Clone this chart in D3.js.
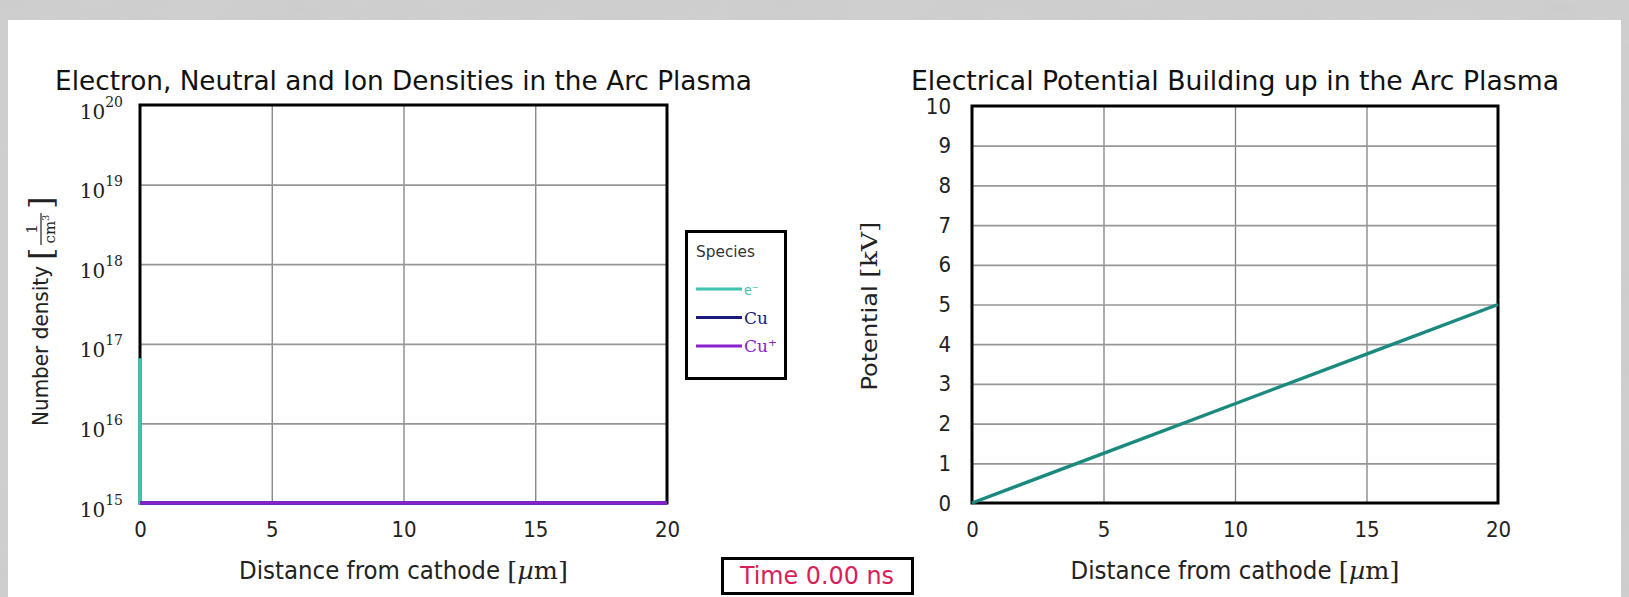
<!DOCTYPE html>
<html>
<head>
<meta charset="utf-8">
<script src="https://cdn.jsdelivr.net/npm/d3@7"></script>
<style>
  html, body { margin: 0; padding: 0; background: #c4c4c4; }
  svg { display: block; }
</style>
</head>
<body>
<svg id="fig" width="1629" height="597"></svg>
<script>
// ---- data -------------------------------------------------------------
const xTicks = [0, 5, 10, 15, 20];                       // distance from cathode, µm
const densityTicks = [1e15, 1e16, 1e17, 1e18, 1e19, 1e20]; // cm^-3
const potentialTicks = [0, 1, 2, 3, 4, 5, 6, 7, 8, 9, 10]; // kV

// species densities along the gap (1e15 is the plotting floor)
const electronX = [0, 0, 20];
const electronDensity = [6.6e16, 1e15, 1e15];
const neutralX = [0, 20];
const neutralDensity = [1e15, 1e15];
const ionX = [0, 20];
const ionDensity = [1e15, 1e15];

// electrical potential along the gap
const potentialX = [0, 5, 10, 15, 20];
const potentialKV = [0, 1.25, 2.5, 3.75, 5];

const speciesNames = ["e⁻", "Cu", "Cu⁺"];
const speciesColors = ["#3fc2ae", "#1b1b7d", "#8a20cc"];
const potentialColor = "#1a8a7e";
const timeLabel = "Time 0.00 ns";

// ---- layout -----------------------------------------------------------
const SANS = "'DejaVu Sans Condensed', 'Liberation Sans Narrow', 'DejaVu Sans', sans-serif";
const SERIF = "'DejaVu Serif', 'Liberation Serif', serif";
const svg = d3.select("#fig");

// textured grey surround and white page
const defs = svg.append("defs");
const flt = defs.append("filter").attr("id", "marble").attr("x", 0).attr("y", 0).attr("width", "100%").attr("height", "100%");
flt.append("feTurbulence").attr("type", "fractalNoise").attr("baseFrequency", "0.012 0.05").attr("numOctaves", 3).attr("seed", 4).attr("result", "n");
flt.append("feColorMatrix").attr("in", "n").attr("type", "matrix")
  .attr("values", "0 0 0 0 0.6  0 0 0 0 0.6  0 0 0 0 0.6  1.6 0 0 0 -0.55");
svg.append("rect").attr("width", 1629).attr("height", 597).attr("fill", "#cfcfcf");
svg.append("rect").attr("width", 1629).attr("height", 597).attr("filter", "url(#marble)").attr("opacity", 0.8);
svg.append("rect").attr("x", 8).attr("y", 20).attr("width", 1613).attr("height", 577).attr("fill", "#fff");

const left = { x0: 140, x1: 667, y0: 105, y1: 503 };
const right = { x0: 972, x1: 1498, y0: 106, y1: 503 };

const xL = d3.scaleLinear().domain([0, 20]).range([left.x0, left.x1]);
const yL = d3.scaleLog().domain([1e15, 1e20]).range([left.y1, left.y0]).clamp(true);
const xR = d3.scaleLinear().domain([0, 20]).range([right.x0, right.x1]);
const yR = d3.scaleLinear().domain([0, 10]).range([right.y1, right.y0]);

function fitText(sel, width) {
  sel.attr("textLength", width).attr("lengthAdjust", "spacingAndGlyphs");
}

function grid(g, x, y, yTicks, box) {
  g.append("g")
    .attr("transform", `translate(0,${box.y1})`)
    .call(d3.axisBottom(x).tickValues(xTicks.slice(1, -1)).tickSize(-(box.y1 - box.y0)).tickFormat(""))
    .call(a => a.select(".domain").remove())
    .call(a => a.selectAll("line").attr("stroke", "#808080").attr("stroke-width", 1.3));
  g.append("g")
    .attr("transform", `translate(${box.x0},0)`)
    .call(d3.axisLeft(y).tickValues(yTicks.slice(1, -1)).tickSize(-(box.x1 - box.x0)).tickFormat(""))
    .call(a => a.select(".domain").remove())
    .call(a => a.selectAll("line").attr("stroke", "#969696").attr("stroke-width", 1.7));
}

function xAxisLabels(g, x, box) {
  g.append("g")
    .attr("transform", `translate(0,${box.y1})`)
    .call(d3.axisBottom(x).tickValues(xTicks).tickSize(0).tickPadding(18).tickFormat(d3.format("d")))
    .call(a => a.select(".domain").remove())
    .call(a => a.selectAll("text").attr("font-family", SANS).attr("font-size", 22).attr("fill", "#222"));
}

function frame(g, box) {
  g.append("rect")
    .attr("x", box.x0).attr("y", box.y0)
    .attr("width", box.x1 - box.x0).attr("height", box.y1 - box.y0)
    .attr("fill", "none").attr("stroke", "#000").attr("stroke-width", 3);
}

function xTitle(g, box) {
  const t = g.append("text")
    .attr("x", (box.x0 + box.x1) / 2).attr("y", 579)
    .attr("text-anchor", "middle").attr("font-size", 25).attr("fill", "#222");
  t.append("tspan").attr("font-family", SANS).text("Distance from cathode ");
  t.append("tspan").attr("font-family", SERIF).text("[");
  t.append("tspan").attr("font-family", SERIF).attr("font-style", "italic").text("µ");
  t.append("tspan").attr("font-family", SERIF).text("m]");
  fitText(t, 329);
}

// ---- left panel: densities -------------------------------------------
const gL = svg.append("g");
grid(gL, xL, yL, densityTicks, left);
frame(gL, left);
xAxisLabels(gL, xL, left);

gL.append("g")
  .attr("transform", `translate(${left.x0},0)`)
  .call(d3.axisLeft(yL).tickValues(densityTicks).tickSize(0).tickPadding(17).tickFormat(() => ""))
  .call(a => a.select(".domain").remove())
  .call(a => a.selectAll(".tick text").each(function (d) {
    const t = d3.select(this)
      .attr("font-family", SERIF).attr("font-size", 20).attr("fill", "#222").attr("dy", 13);
    t.append("tspan").text("10");
    t.append("tspan").attr("font-size", 14).attr("dy", -12).text(Math.round(Math.log10(d)));
  }));

const densityLine = d3.line().x(d => xL(d[0])).y(d => yL(d[1]));
const seriesL = [
  { xs: electronX, ys: electronDensity, color: speciesColors[0] },
  { xs: neutralX, ys: neutralDensity, color: speciesColors[1] },
  { xs: ionX, ys: ionDensity, color: speciesColors[2] }
];
gL.selectAll("path.species")
  .data(seriesL)
  .join("path")
  .attr("class", "species")
  .attr("d", s => densityLine(s.xs.map((v, i) => [v, s.ys[i]])))
  .attr("fill", "none")
  .attr("stroke", s => s.color)
  .attr("stroke-width", 3.6);

gL.append("text")
  .attr("x", (left.x0 + left.x1) / 2).attr("y", 90)
  .attr("text-anchor", "middle").attr("font-family", SANS).attr("font-size", 27).attr("fill", "#111")
  .text("Electron, Neutral and Ion Densities in the Arc Plasma")
  .call(fitText, 697);

xTitle(gL, left);

// rotated y title with a fraction unit
const yt = gL.append("g").attr("transform", "translate(40,426) rotate(-90)");
yt.append("text")
  .attr("x", 0).attr("y", 8).attr("font-family", SANS).attr("font-size", 22).attr("fill", "#222")
  .text("Number density").call(fitText, 160);
const fx = 166;
yt.append("text").attr("x", fx).attr("y", 12).attr("font-family", SERIF).attr("font-size", 32).attr("fill", "#222").text("[");
yt.append("text").attr("x", fx + 31).attr("y", -3).attr("text-anchor", "middle").attr("font-family", SERIF).attr("font-size", 15).attr("fill", "#222").text("1");
yt.append("line").attr("x1", fx + 15).attr("x2", fx + 47).attr("y1", 1).attr("y2", 1).attr("stroke", "#222").attr("stroke-width", 1.2);
const den = yt.append("text").attr("x", fx + 31).attr("y", 15).attr("text-anchor", "middle").attr("font-family", SERIF).attr("font-size", 15).attr("fill", "#222");
den.append("tspan").text("cm");
den.append("tspan").attr("font-size", 10).attr("dy", -6).text("3");
yt.append("text").attr("x", fx + 51).attr("y", 12).attr("font-family", SERIF).attr("font-size", 32).attr("fill", "#222").text("]");

// legend
const lg = svg.append("g");
lg.append("rect").attr("x", 686.5).attr("y", 231.5).attr("width", 99).attr("height", 147)
  .attr("fill", "#fff").attr("stroke", "#000").attr("stroke-width", 3);
lg.append("text").attr("x", 696).attr("y", 257).attr("font-family", SANS).attr("font-size", 15).attr("fill", "#333")
  .text("Species").call(fitText, 59);
const legY = d3.scalePoint().domain(speciesNames).range([289, 346]);
speciesNames.forEach((name, i) => {
  lg.append("line").attr("x1", 696).attr("x2", 742).attr("y1", legY(name)).attr("y2", legY(name))
    .attr("stroke", speciesColors[i]).attr("stroke-width", 3);
  lg.append("text").attr("x", 744).attr("y", legY(name) + 6)
    .attr("font-family", i === 0 ? SANS : SERIF).attr("font-size", i === 0 ? 14 : 17)
    .attr("fill", speciesColors[i]).text(name);
});

// time stamp
svg.append("rect").attr("x", 722.5).attr("y", 558.5).attr("width", 190).attr("height", 35)
  .attr("fill", "#fff").attr("stroke", "#000").attr("stroke-width", 3);
svg.append("text").attr("x", 817).attr("y", 584).attr("text-anchor", "middle")
  .attr("font-family", SANS).attr("font-size", 25).attr("fill", "#d81f5a")
  .text(timeLabel).call(fitText, 154);

// ---- right panel: potential ------------------------------------------
const gR = svg.append("g");
grid(gR, xR, yR, potentialTicks, right);
frame(gR, right);
xAxisLabels(gR, xR, right);

gR.append("g")
  .attr("transform", `translate(${right.x0},0)`)
  .call(d3.axisLeft(yR).tickValues(potentialTicks).tickSize(0).tickPadding(21).tickFormat(d3.format("d")))
  .call(a => a.select(".domain").remove())
  .call(a => a.selectAll("text").attr("font-family", SANS).attr("font-size", 22).attr("fill", "#222"));

gR.append("path")
  .datum(potentialX.map((v, i) => [v, potentialKV[i]]))
  .attr("d", d3.line().x(d => xR(d[0])).y(d => yR(d[1])))
  .attr("fill", "none").attr("stroke", potentialColor).attr("stroke-width", 3.4);

gR.append("text")
  .attr("x", (right.x0 + right.x1) / 2).attr("y", 90)
  .attr("text-anchor", "middle").attr("font-family", SANS).attr("font-size", 27).attr("fill", "#111")
  .text("Electrical Potential Building up in the Arc Plasma")
  .call(fitText, 648);

xTitle(gR, right);

const pt = gR.append("text")
  .attr("transform", "translate(877,306) rotate(-90)")
  .attr("text-anchor", "middle").attr("font-size", 22).attr("fill", "#222");
pt.append("tspan").attr("font-family", SANS).text("Potential ");
pt.append("tspan").attr("font-family", SERIF).text("[kV]");
fitText(pt, 169);
</script>
</body>
</html>
